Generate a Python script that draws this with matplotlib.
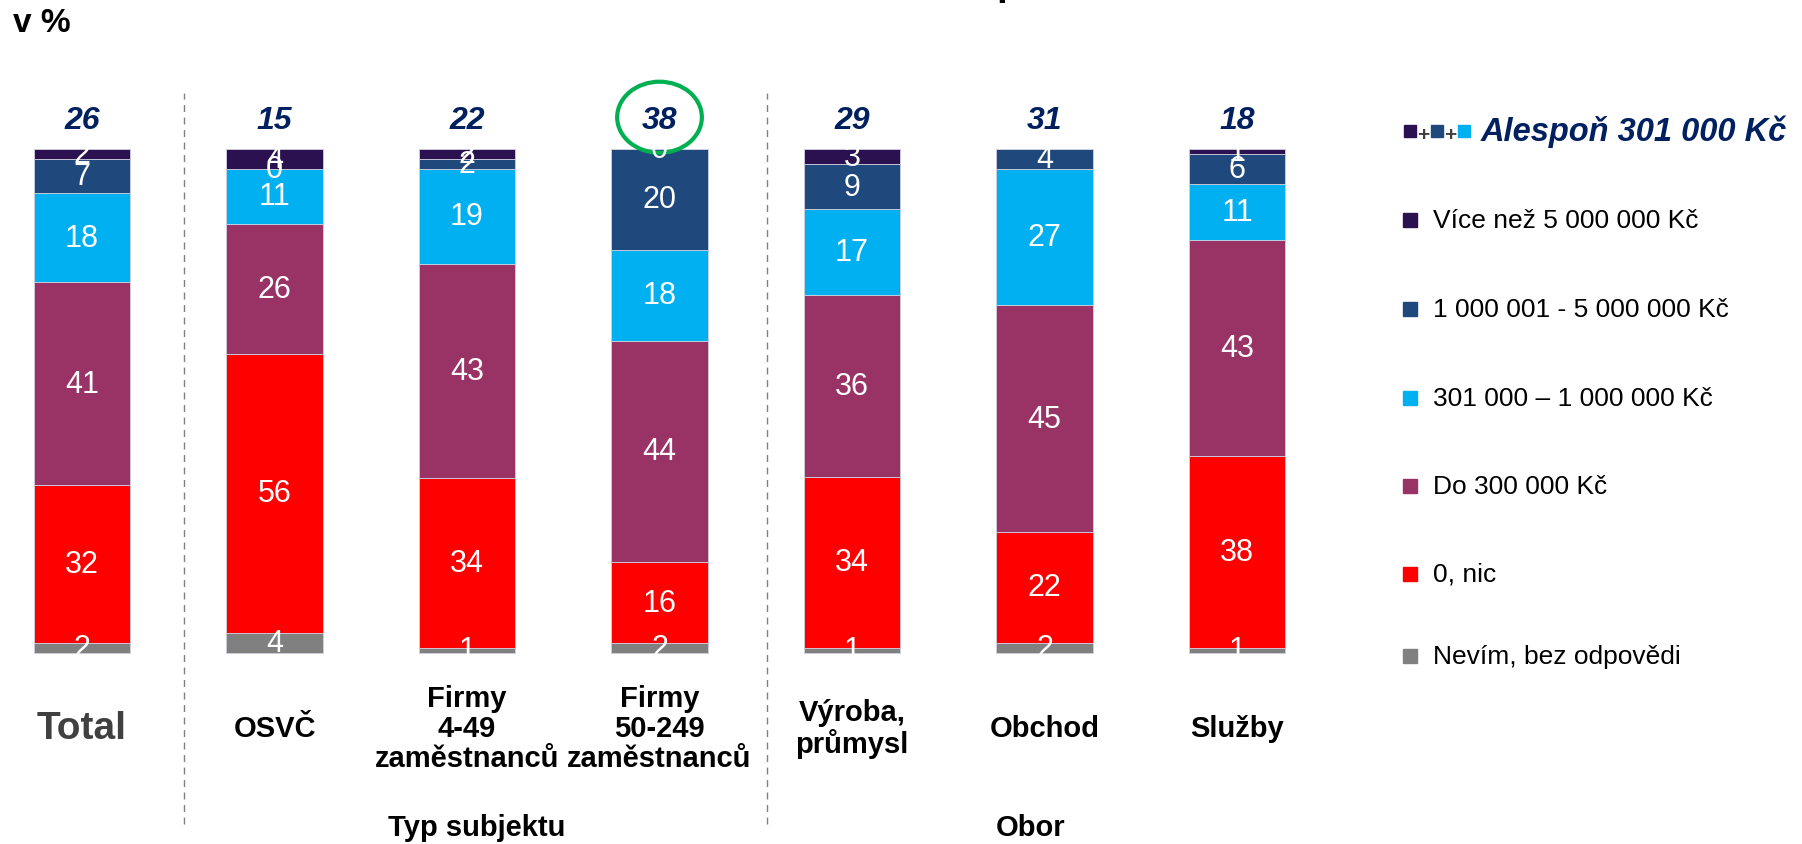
import numpy as np
import matplotlib
matplotlib.use("Agg")
import matplotlib.pyplot as plt
from matplotlib import font_manager
from matplotlib.patches import Ellipse

# --- data (v %) ---
categories = ["Total", "OSVČ", "Firmy\n4-49\nzaměstnanců", "Firmy\n50-249\nzaměstnanců",
              "Výroba,\nprůmysl", "Obchod", "Služby"]
nevim = [2, 4, 1, 2, 1, 2, 1]
nic = [32, 56, 34, 16, 34, 22, 38]
do_300k = [41, 26, 43, 44, 36, 45, 43]
do_1m = [18, 11, 19, 18, 17, 27, 11]
do_5m = [7, 0, 2, 20, 9, 4, 6]
nad_5m = [2, 4, 2, 0, 3, np.nan, 1]
alespon = [26, 15, 22, 38, 29, 31, 18]

series_names = ["Nevím, bez odpovědi", "0, nic", "Do 300 000 Kč",
                "301 000 – 1 000 000 Kč", "1 000 001 - 5 000 000 Kč",
                "Více než 5 000 000 Kč"]
colors = ["#808080", "#FF0000", "#993366", "#00B0F0", "#1F497D", "#2B1150"]
navy = "#002060"

available = {f.name for f in font_manager.fontManager.ttflist}
narrow = "Liberation Sans Narrow" if "Liberation Sans Narrow" in available else "Liberation Sans"
plt.rcParams["font.family"] = ["Liberation Sans", "DejaVu Sans"]

series = [nevim, nic, do_300k, do_1m, do_5m, nad_5m]
vals = np.array(series, dtype=float)
sums = np.nansum(vals, axis=0)
heights = np.nan_to_num(vals) / sums * 100  # 100% stacked

fig = plt.figure(figsize=(18.02, 8.45), dpi=100)
ax = fig.add_axes([0, 0, 1, 1])
ax.set_xlim(-0.426, 8.935)
ax.set_ylim(-37.9, 129.76)
ax.axis("off")

x = np.arange(len(categories))
bottom = np.zeros(len(categories))
for i, (h, c) in enumerate(zip(heights, colors)):
    bars = ax.bar(x, h, width=0.5, bottom=bottom, color=c, edgecolor="#d0d0e0", linewidth=0.6)
    labels = ["" if np.isnan(v) else f"{int(v)}" for v in vals[i]]
    ax.bar_label(bars, labels=labels, label_type="center", color="white", fontsize=22)
    bottom += h

# soucty "alespon 301 000 Kc"
for xi, v in zip(x, alespon):
    ax.text(xi, 105.8, str(v), ha="center", va="center", fontsize=23, color=navy,
            fontweight="bold", fontstyle="italic", family=narrow)
ax.add_patch(Ellipse((3, 106.3), 0.44, 14.1, fill=False, lw=3, color="#00B050"))

# popisky kategorii
for xi, lab in zip(x, categories):
    if lab == "Total":
        ax.text(xi, -14.9, lab, ha="center", va="center", fontsize=28, color="#404040",
                fontweight="bold", family=narrow)
    else:
        ax.text(xi, -14.9, lab, ha="center", va="center", fontsize=21, color="black",
                fontweight="bold", family=narrow, linespacing=1.1, multialignment="center")

ax.text(2.05, -34.5, "Typ subjektu", ha="center", va="center", fontsize=21,
        fontweight="bold", family=narrow)
ax.text(4.93, -34.5, "Obor", ha="center", va="center", fontsize=21,
        fontweight="bold", family=narrow)

for sx in [0.53, 3.56]:
    ax.plot([sx, sx], [-33.9, 111.1], color="#808080", lw=1, ls=(0, (5, 4)))

# legenda
leg_y = [85.9, 68.3, 50.6, 33.1, 15.7, -0.6]
for yy, name, c in zip(leg_y, series_names[::-1], colors[::-1]):
    ax.plot(6.90, yy, "s", ms=10, color=c)
    ax.text(7.02, yy, name, ha="left", va="center", fontsize=19)

top_y = 103.6
ax.plot(6.90, top_y, "s", ms=9, color=colors[5])
ax.text(6.97, top_y - 0.8, "+", ha="center", va="center", fontsize=15, fontweight="bold", color="#404040")
ax.plot(7.04, top_y, "s", ms=9, color=colors[4])
ax.text(7.11, top_y - 0.8, "+", ha="center", va="center", fontsize=15, fontweight="bold", color="#404040")
ax.plot(7.18, top_y, "s", ms=9, color=colors[3])
ax.text(7.265, top_y, "Alespoň 301 000 Kč", ha="left", va="center", fontsize=23.5,
        fontweight="bold", fontstyle="italic", color=navy)

fig.text(0.007, 0.972, "v %", ha="left", va="center", fontsize=24, fontweight="bold")
# zbytek oriznuteho nadpisu
fig.text(0.553, 1.006, "p", ha="left", va="baseline", fontsize=28, fontweight="bold")

fig.savefig("out.png", dpi=100)
